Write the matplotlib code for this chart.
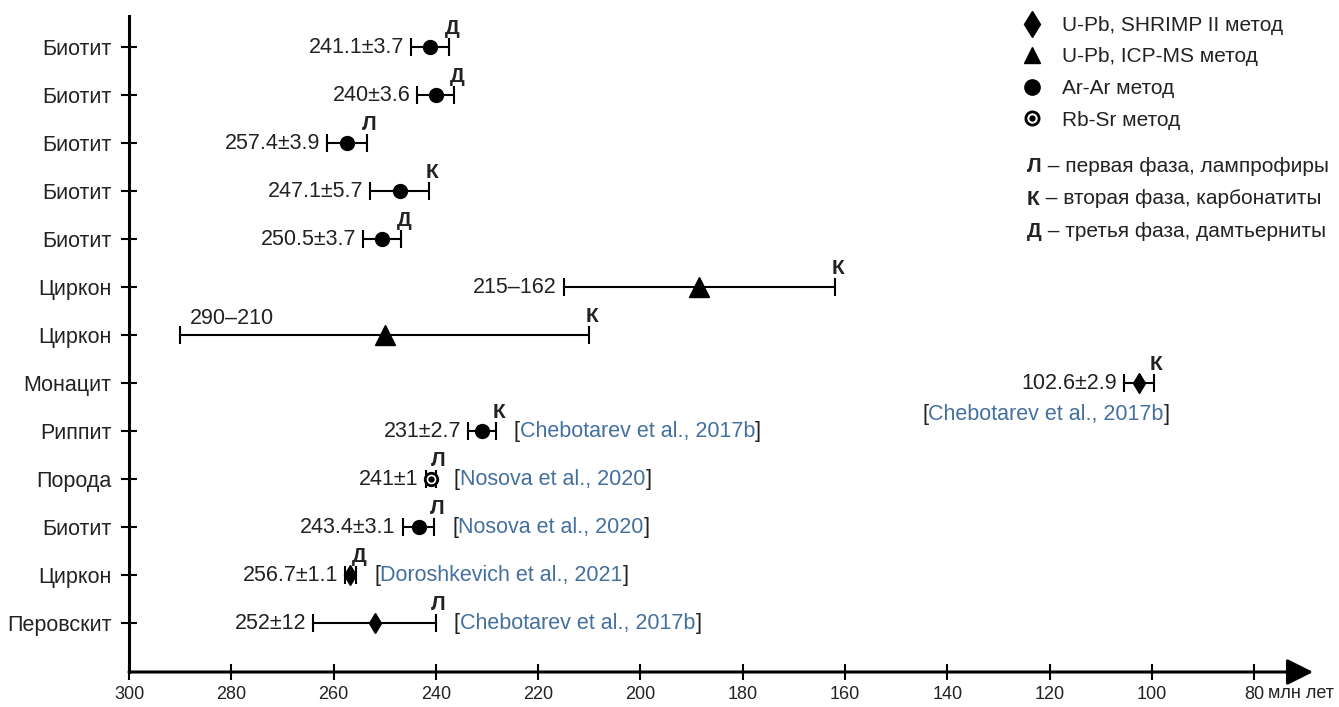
import numpy as np
import matplotlib
matplotlib.use('Agg')
import matplotlib.pyplot as plt
from matplotlib.lines import Line2D
from matplotlib.legend_handler import HandlerTuple

plt.rcParams['font.family'] = ['Liberation Sans', 'DejaVu Sans']

# data, top to bottom
categories = ['Биотит', 'Биотит', 'Биотит', 'Биотит', 'Биотит', 'Циркон', 'Циркон',
              'Монацит', 'Риппит', 'Порода', 'Биотит', 'Циркон', 'Перовскит']
ages = [241.1, 240, 257.4, 247.1, 250.5, 188.5, 250, 102.6, 231, 241, 243.4, 256.7, 252]
errors = [3.7, 3.6, 3.9, 5.7, 3.7, 26.5, 40, 2.9, 2.7, 1, 3.1, 1.1, 12]
methods = ['ArAr', 'ArAr', 'ArAr', 'ArAr', 'ArAr', 'ICP', 'ICP',
           'SHRIMP', 'ArAr', 'RbSr', 'ArAr', 'SHRIMP', 'SHRIMP']
phases = ['Д', 'Д', 'Л', 'К', 'Д', 'К', 'К', 'К', 'К', 'Л', 'Л', 'Д', 'Л']
value_labels = ['241.1±3.7', '240±3.6', '257.4±3.9', '247.1±5.7', '250.5±3.7', '215–162',
                '290–210', '102.6±2.9', '231±2.7', '241±1', '243.4±3.1', '256.7±1.1', '252±12']
refs = [None, None, None, None, None, None, None,
        'Chebotarev et al., 2017b', 'Chebotarev et al., 2017b', 'Nosova et al., 2020',
        'Nosova et al., 2020', 'Doroshkevich et al., 2021', 'Chebotarev et al., 2017b']
x_ticks = [300, 280, 260, 240, 220, 200, 180, 160, 140, 120, 100, 80]

method_names = {'SHRIMP': 'U-Pb, SHRIMP II метод', 'ICP': 'U-Pb, ICP-MS метод',
                'ArAr': 'Ar-Ar метод', 'RbSr': 'Rb-Sr метод'}
phase_names = [('Л', ' – первая фаза, лампрофиры'),
               ('К', ' – вторая фаза, карбонатиты'),
               ('Д', ' – третья фаза, дамтьерниты')]

txt_color = '#222222'
ref_color = '#44709e'
fs = 15.5

marker_style = {
    'ArAr': dict(marker='o', ms=10, mfc='black', mec='black'),
    'ICP': dict(marker='^', ms=15, mfc='black', mec='black'),
    'SHRIMP': dict(marker='d', ms=10.5, mfc='black', mec='black'),
    'RbSr': dict(marker='o', ms=9, mfc='white', mec='black', mew=2),
}
legend_style = {
    'ArAr': dict(marker='o', ms=11, mfc='black', mec='black'),
    'ICP': dict(marker='^', ms=12, mfc='black', mec='black'),
    'SHRIMP': dict(marker='d', ms=13, mfc='black', mec='black'),
    'RbSr': dict(marker='o', ms=9.5, mfc='white', mec='black', mew=2),
}

fig = plt.figure(figsize=(13.39, 7.07), dpi=100)
ax = fig.add_axes([129 / 1339, 35 / 707, (1330 - 129) / 1339, (672 - 16) / 707])

y = np.arange(len(categories))

for i in range(len(categories)):
    ax.errorbar(ages[i], y[i], xerr=errors[i], fmt='none', ecolor='black',
                elinewidth=1.5, capsize=6.5, capthick=1.5, zorder=2)
    ax.plot(ages[i], y[i], linestyle='none', zorder=3, **marker_style[methods[i]])
    if methods[i] == 'RbSr':
        ax.plot(ages[i], y[i], linestyle='none', marker='o', ms=3.5, color='black', zorder=4)

    # phase letter above the young end cap
    ax.annotate(phases[i], xy=(ages[i] - errors[i], y[i]), xytext=(2, 13.5),
                textcoords='offset points', ha='center', va='center',
                fontsize=fs - 0.5, fontweight='bold', color=txt_color)

    # age label
    if i == 6:
        ax.annotate(value_labels[i], xy=(ages[i] + errors[i], y[i]), xytext=(7, 12),
                    textcoords='offset points', ha='left', va='center',
                    fontsize=fs, color=txt_color)
    else:
        ax.annotate(value_labels[i], xy=(ages[i] + errors[i], y[i]), xytext=(-5, 0),
                    textcoords='offset points', ha='right', va='center',
                    fontsize=fs, color=txt_color)

    # reference
    if refs[i] is not None:
        if i == 7:
            start = ax.annotate('[', xy=(ages[i], y[i]), xytext=(-156, -23),
                                textcoords='offset points', ha='left', va='center',
                                fontsize=fs, color=txt_color)
        else:
            start = ax.annotate('[', xy=(ages[i] - errors[i], y[i]), xytext=(13, 0),
                                textcoords='offset points', ha='left', va='center',
                                fontsize=fs, color=txt_color)
        mid = ax.annotate(refs[i], xy=(1, 0.5), xycoords=start, ha='left', va='center',
                          fontsize=fs, color=ref_color)
        ax.annotate(']', xy=(1, 0.5), xycoords=mid, ha='left', va='center',
                    fontsize=fs, color=txt_color)

# axes
ax.set_xlim(300, 65.2)
ax.set_ylim(13.02, -0.646)
ax.set_yticks(y)
ax.set_yticklabels(categories, fontsize=fs, color=txt_color)
ax.set_xticks(x_ticks)
ax.set_xticklabels([str(t) for t in x_ticks], fontsize=13, color=txt_color)
ax.tick_params(axis='both', direction='inout', length=11.5, width=1.5, color='black')
ax.tick_params(axis='y', pad=7)
ax.tick_params(axis='x', pad=4)
for side in ['top', 'right', 'bottom']:
    ax.spines[side].set_visible(False)
ax.spines['left'].set_linewidth(2.2)

ax.annotate('', xy=(68.5, 0), xytext=(300, 0), xycoords=('data', 'axes fraction'),
            textcoords=('data', 'axes fraction'),
            arrowprops=dict(arrowstyle='-|>,head_length=0.8,head_width=0.4',
                            mutation_scale=20, lw=2.2, color='black',
                            shrinkA=0, shrinkB=0))
ax.annotate('млн лет', xy=(80, 0), xycoords=('data', 'axes fraction'),
            xytext=(10, -9.7), textcoords='offset points', ha='left', va='top',
            fontsize=13, color=txt_color)

# legend of methods
handles = []
labels = []
for key in ['SHRIMP', 'ICP', 'ArAr', 'RbSr']:
    h = Line2D([], [], linestyle='none', **legend_style[key])
    if key == 'RbSr':
        h = (h, Line2D([], [], linestyle='none', marker='o', ms=3.5, color='black'))
    handles.append(h)
    labels.append(method_names[key])
leg = ax.legend(handles, labels, loc='upper left', bbox_to_anchor=(1019 / 1339, 1 - 16 / 707),
                bbox_transform=fig.transFigure, frameon=False, fontsize=fs - 0.5,
                borderpad=0, borderaxespad=0, handlelength=1.2, handletextpad=0.85,
                labelspacing=0.6, handler_map={tuple: HandlerTuple(ndivide=1, pad=0)})
for t in leg.get_texts():
    t.set_color(txt_color)

# legend of phases
for k, (letter, rest) in enumerate(phase_names):
    yy = 1 - (167 + 32 * k) / 707
    lt = fig.text(1027 / 1339, yy, letter, fontsize=fs - 0.5, fontweight='bold',
                  color=txt_color, ha='left', va='center')
    ax.annotate(rest, xy=(1, 0.5), xycoords=lt, ha='left', va='center',
                fontsize=fs - 0.5, color=txt_color)

fig.savefig('out.png', dpi=100)
